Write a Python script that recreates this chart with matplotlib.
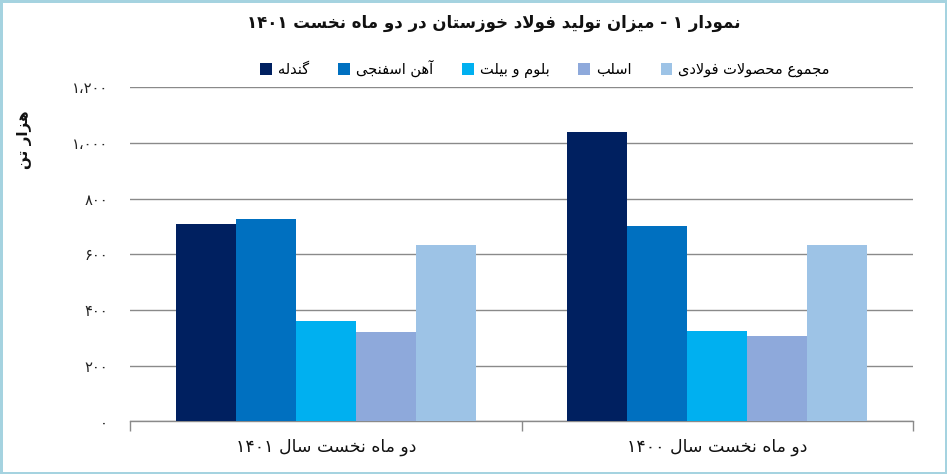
import re
import numpy as np
import matplotlib
matplotlib.use("Agg")
import matplotlib.pyplot as plt
from matplotlib.patches import Rectangle

# ---------------- data ----------------
categories = ['دو ماه نخست سال ۱۴۰۱', 'دو ماه نخست سال ۱۴۰۰']
series_names = ['گندله', 'آهن اسفنجی', 'بلوم و بیلت', 'اسلب', 'مجموع محصولات فولادی']
gandale = [708, 1039]
ahan_esfanji = [726, 701]
bloom_billet = [360, 325]
slab = [321, 306]
total_steel = [633, 633]
ytick_values = [0, 200, 400, 600, 800, 1000, 1200]
ytick_labels = ['۰', '۲۰۰', '۴۰۰', '۶۰۰', '۸۰۰', '۱،۰۰۰', '۱،۲۰۰']
title_text = 'نمودار ۱ - میزان تولید فولاد خوزستان در دو ماه نخست ۱۴۰۱'
ylabel_text = 'هزار تن'

colors = ['#002060', '#0070C0', '#00B0F0', '#8EA9DB', '#9DC3E6']

# ---------------- minimal Persian shaping + RTL ----------------
FORMS = {
    'ا': ('\uFE8D', '\uFE8E', None, None),
    'آ': ('\uFE81', '\uFE82', None, None),
    'ب': ('\uFE8F', '\uFE90', '\uFE91', '\uFE92'),
    'پ': ('\uFB56', '\uFB57', '\uFB58', '\uFB59'),
    'ت': ('\uFE95', '\uFE96', '\uFE97', '\uFE98'),
    'ث': ('\uFE99', '\uFE9A', '\uFE9B', '\uFE9C'),
    'ج': ('\uFE9D', '\uFE9E', '\uFE9F', '\uFEA0'),
    'چ': ('\uFB7A', '\uFB7B', '\uFB7C', '\uFB7D'),
    'ح': ('\uFEA1', '\uFEA2', '\uFEA3', '\uFEA4'),
    'خ': ('\uFEA5', '\uFEA6', '\uFEA7', '\uFEA8'),
    'د': ('\uFEA9', '\uFEAA', None, None),
    'ذ': ('\uFEAB', '\uFEAC', None, None),
    'ر': ('\uFEAD', '\uFEAE', None, None),
    'ز': ('\uFEAF', '\uFEB0', None, None),
    'ژ': ('\uFB8A', '\uFB8B', None, None),
    'س': ('\uFEB1', '\uFEB2', '\uFEB3', '\uFEB4'),
    'ش': ('\uFEB5', '\uFEB6', '\uFEB7', '\uFEB8'),
    'ص': ('\uFEB9', '\uFEBA', '\uFEBB', '\uFEBC'),
    'ض': ('\uFEBD', '\uFEBE', '\uFEBF', '\uFEC0'),
    'ط': ('\uFEC1', '\uFEC2', '\uFEC3', '\uFEC4'),
    'ظ': ('\uFEC5', '\uFEC6', '\uFEC7', '\uFEC8'),
    'ع': ('\uFEC9', '\uFECA', '\uFECB', '\uFECC'),
    'غ': ('\uFECD', '\uFECE', '\uFECF', '\uFED0'),
    'ف': ('\uFED1', '\uFED2', '\uFED3', '\uFED4'),
    'ق': ('\uFED5', '\uFED6', '\uFED7', '\uFED8'),
    'ک': ('\uFB8E', '\uFB8F', '\uFB90', '\uFB91'),
    'گ': ('\uFB92', '\uFB93', '\uFB94', '\uFB95'),
    'ل': ('\uFEDD', '\uFEDE', '\uFEDF', '\uFEE0'),
    'م': ('\uFEE1', '\uFEE2', '\uFEE3', '\uFEE4'),
    'ن': ('\uFEE5', '\uFEE6', '\uFEE7', '\uFEE8'),
    'ه': ('\uFEE9', '\uFEEA', '\uFEEB', '\uFEEC'),
    'و': ('\uFEED', '\uFEEE', None, None),
    'ی': ('\uFBFC', '\uFBFD', '\uFBFE', '\uFBFF'),
}
LAM_ALEF = {'ا': ('\uFEFB', '\uFEFC'), 'آ': ('\uFEF5', '\uFEF6')}


def _joins_next(c):
    return c in FORMS and FORMS[c][2] is not None


def _shape(text):
    out = []
    n = len(text)
    i = 0
    while i < n:
        c = text[i]
        if c not in FORMS:
            out.append(c)
            i += 1
            continue
        prev = text[i - 1] if i > 0 else None
        cp = prev is not None and _joins_next(prev)
        if c == 'ل' and i + 1 < n and text[i + 1] in LAM_ALEF:
            lig = LAM_ALEF[text[i + 1]]
            out.append(lig[1] if cp else lig[0])
            i += 2
            continue
        nxt = text[i + 1] if i + 1 < n else None
        cn = _joins_next(c) and nxt is not None and nxt in FORMS
        iso, fin, ini, med = FORMS[c]
        if cp and cn:
            out.append(med)
        elif cp:
            out.append(fin)
        elif cn:
            out.append(ini)
        else:
            out.append(iso)
        i += 1
    return ''.join(out)


def fa(text):
    rev = _shape(text)[::-1]
    return re.sub(r'[0-9\u06F0-\u06F9][0-9\u06F0-\u06F9\u060C\u066C,.]*[0-9\u06F0-\u06F9]|[0-9\u06F0-\u06F9]',
                  lambda m: m.group(0)[::-1], rev)


plt.rcParams['font.family'] = ['DejaVu Sans']

# ---------------- figure ----------------
W, H = 947, 474
fig = plt.figure(figsize=(W / 100, H / 100), dpi=100, facecolor='white')
ax = fig.add_axes([130 / W, 1 - 421.3 / H, (913 - 130) / W, (421.3 - 87.3) / H])

values = [gandale, ahan_esfanji, bloom_billet, slab, total_steel]
x = np.arange(len(categories))
bw = 0.1535
for i, (name, vals, col) in enumerate(zip(series_names, values, colors)):
    ax.bar(x + (i - 2) * bw, vals, width=bw, color=col, label=fa(name), zorder=3)

ax.set_xlim(-0.5, 1.5)
ax.set_ylim(0, 1200)
ax.set_yticks(ytick_values)
ax.set_yticklabels(ytick_labels, fontsize=10.5, color='#222222')
ax.tick_params(axis='y', length=0, pad=16)
ax.yaxis.grid(True, color='#8a8a8a', linewidth=1.0, zorder=0)
ax.set_axisbelow(True)

ax.set_xticks(x)
ax.set_xticklabels([fa(c) for c in categories], fontsize=12.5, color='#111111')
ax.tick_params(axis='x', which='major', length=0, pad=12)
ax.set_xticks([-0.5, 0.5, 1.5], minor=True)
ax.tick_params(axis='x', which='minor', length=7, width=1, color='#8a8a8a', direction='out')

for s in ['top', 'right', 'left']:
    ax.spines[s].set_visible(False)
ax.spines['bottom'].set_color('#8a8a8a')
ax.spines['bottom'].set_linewidth(1.0)

# title, y label, legend
fig.text(494 / W, 1 - 23 / H, fa(title_text), ha='center', va='center',
         fontsize=12, fontweight='bold', color='#111111')
fig.text(24 / W, 1 - 140 / H, fa(ylabel_text), ha='center', va='center',
         rotation=90, fontsize=11, fontweight='bold', color='#111111')
fig.legend(loc='center', bbox_to_anchor=(545 / W, 1 - 69 / H), ncol=5, frameon=False,
           fontsize=10.5, handlelength=0.8, handleheight=0.8, handletextpad=0.4,
           columnspacing=2.0)

# light-blue frame border
fig.patches.append(Rectangle((0, 0), 1, 1, transform=fig.transFigure, fill=False,
                             edgecolor='#A5D3E0', linewidth=3.6, zorder=10))

fig.savefig('out.png', dpi=100, facecolor='white')
